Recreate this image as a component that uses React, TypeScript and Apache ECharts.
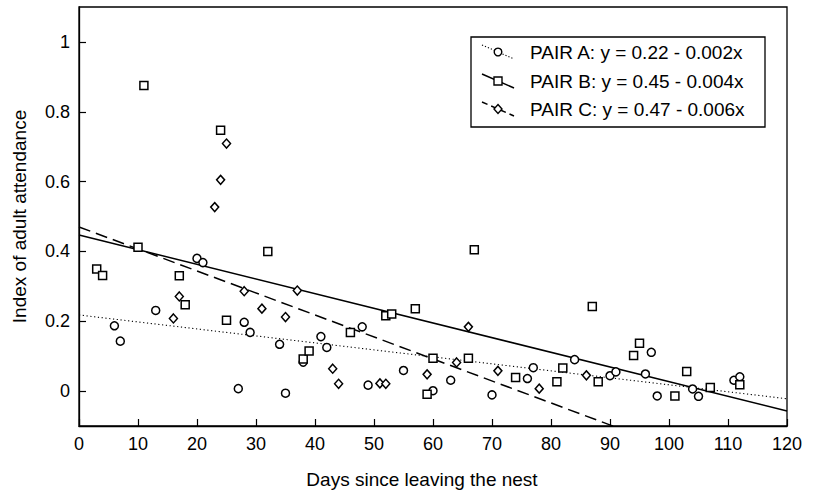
import React, { useEffect, useRef } from "react";
import * as echarts from "echarts";

// ---- data ----
const daysA = [6, 7, 13, 20, 21, 27, 28, 29, 34, 35, 38, 41, 42, 48, 49, 55, 60, 63, 70, 76, 77, 84, 90, 91, 96, 97, 98, 104, 105, 111, 112];
const attendA = [0.187, 0.143, 0.231, 0.38, 0.368, 0.007, 0.197, 0.168, 0.134, -0.006, 0.083, 0.156, 0.125, 0.184, 0.017, 0.059, 0.001, 0.031, -0.011, 0.036, 0.067, 0.09, 0.044, 0.055, 0.049, 0.111, -0.014, 0.006, -0.015, 0.031, 0.041];

const daysB = [3, 4, 10, 11, 17, 18, 24, 25, 32, 38, 39, 46, 52, 53, 57, 59, 60, 66, 67, 74, 81, 82, 87, 88, 94, 95, 101, 103, 107, 112];
const attendB = [0.35, 0.331, 0.412, 0.875, 0.33, 0.247, 0.747, 0.203, 0.4, 0.092, 0.115, 0.168, 0.216, 0.221, 0.236, -0.009, 0.094, 0.094, 0.405, 0.039, 0.027, 0.066, 0.242, 0.027, 0.102, 0.137, -0.014, 0.056, 0.01, 0.018];

const daysC = [16, 17, 23, 24, 25, 28, 31, 35, 37, 43, 44, 51, 52, 59, 64, 66, 71, 78, 86];
const attendC = [0.208, 0.271, 0.527, 0.605, 0.709, 0.286, 0.236, 0.212, 0.288, 0.064, 0.021, 0.022, 0.021, 0.048, 0.082, 0.184, 0.058, 0.007, 0.045];

const pairNames = ["PAIR A", "PAIR B", "PAIR C"];
const legendLabels = [
  "PAIR A: y = 0.22 - 0.002x",
  "PAIR B: y = 0.45 - 0.004x",
  "PAIR C: y = 0.47 - 0.006x",
];
// fitted lines as drawn in the picture
const lineIntercepts = [0.218, 0.447, 0.47];
const lineSlopes = [-0.002, -0.0042, -0.0063];
const lineX = [0, 120];

const xTicks = [0, 10, 20, 30, 40, 50, 60, 70, 80, 90, 100, 110, 120];
const yTicks = [0, 0.2, 0.4, 0.6, 0.8, 1];

const FONT = "'Liberation Sans', Arial, sans-serif";

export default function App() {
  const ref = useRef<HTMLDivElement>(null);

  useEffect(() => {
    if (!ref.current) return;
    const chart = echarts.init(ref.current, undefined, { renderer: "svg" });

    const zip = (xs: number[], ys: number[]) => xs.map((x, i) => [x, ys[i]]);
    const symbols = ["circle", "rect", "diamond"];
    const dashes: any[] = [[1.2, 2.6], "solid", [12, 6]];
    const widths = [1.1, 1.5, 1.5];
    const points = [zip(daysA, attendA), zip(daysB, attendB), zip(daysC, attendC)];
    const sizes: any[] = [8, 8, [8, 9]];

    const series: any[] = [];
    for (let i = 0; i < 3; i++) {
      series.push({
        type: "line",
        name: pairNames[i] + " fit",
        data: lineX.map((x) => [x, lineIntercepts[i] + lineSlopes[i] * x]),
        showSymbol: false,
        symbol: "none",
        clip: true,
        lineStyle: { color: "#000", width: widths[i], type: dashes[i] },
        z: 2,
        silent: true,
      });
    }
    for (let i = 0; i < 3; i++) {
      series.push({
        type: "scatter",
        name: pairNames[i],
        data: points[i],
        symbol: symbols[i],
        symbolSize: sizes[i],
        itemStyle: { color: "#fff", borderColor: "#000", borderWidth: 1.5, opacity: 1 },
        z: 5,
      });
    }

    // legend drawn as graphics
    const lx = 498;
    const rowY = [52, 81, 109];
    const legendGraphics: any[] = [
      {
        type: "rect",
        shape: { x: 471, y: 37, width: 294, height: 90 },
        style: { fill: "#fff", stroke: "#000", lineWidth: 1.3 },
        z: 10,
      },
    ];
    rowY.forEach((cy, i) => {
      legendGraphics.push({
        type: "line",
        shape: { x1: lx - 16, y1: cy - 7, x2: lx + 16, y2: cy + 7 },
        style: { stroke: "#000", lineWidth: widths[i], lineDash: i === 0 ? [1.2, 2] : i === 2 ? [6, 4] : null },
        z: 11,
      });
      if (i === 0) {
        legendGraphics.push({
          type: "circle",
          shape: { cx: lx, cy, r: 3.8 },
          style: { fill: "#fff", stroke: "#000", lineWidth: 1.4 },
          z: 12,
        });
      } else if (i === 1) {
        legendGraphics.push({
          type: "rect",
          shape: { x: lx - 4, y: cy - 4, width: 8, height: 8 },
          style: { fill: "#fff", stroke: "#000", lineWidth: 1.4 },
          z: 12,
        });
      } else {
        legendGraphics.push({
          type: "polygon",
          shape: { points: [[lx, cy - 4.5], [lx + 4, cy], [lx, cy + 4.5], [lx - 4, cy]] },
          style: { fill: "#fff", stroke: "#000", lineWidth: 1.4 },
          z: 12,
        });
      }
      legendGraphics.push({
        type: "text",
        x: 530,
        y: cy,
        style: {
          text: legendLabels[i],
          fill: "#000",
          font: `19px ${FONT}`,
          verticalAlign: "middle",
          align: "left",
        },
        z: 12,
      });
    });

    chart.setOption({
      animation: false,
      backgroundColor: "#fff",
      textStyle: { fontFamily: FONT },
      grid: {
        left: 79,
        right: 26,
        top: 7,
        bottom: 66,
        show: true,
        borderColor: "#000",
        borderWidth: 1.3,
        backgroundColor: "transparent",
      },
      xAxis: {
        type: "value",
        min: 0,
        max: 120,
        interval: 10,
        name: "Days since leaving the nest",
        nameLocation: "middle",
        nameGap: 44,
        nameTextStyle: { fontSize: 19, color: "#000", fontFamily: FONT, padding: [0, 22, 0, 0] },
        axisLine: { show: true, onZero: false, lineStyle: { color: "#000", width: 1.3 } },
        axisTick: { show: true, inside: true, length: 7, lineStyle: { color: "#000", width: 1.2 }, customValues: xTicks },
        axisLabel: { color: "#000", fontSize: 18, margin: 9, fontFamily: FONT, customValues: xTicks },
        splitLine: { show: false },
      },
      yAxis: {
        type: "value",
        min: -0.1,
        max: 1.1,
        name: "Index of adult attendance",
        nameLocation: "middle",
        nameGap: 50,
        nameTextStyle: { fontSize: 19, color: "#000", fontFamily: FONT },
        axisLine: { show: true, onZero: false, lineStyle: { color: "#000", width: 1.3 } },
        axisTick: { show: true, inside: true, length: 7, lineStyle: { color: "#000", width: 1.2 }, customValues: yTicks },
        axisLabel: { color: "#000", fontSize: 18, margin: 9, fontFamily: FONT, customValues: yTicks },
        splitLine: { show: false },
      },
      series,
      graphic: legendGraphics,
    });

    return () => chart.dispose();
  }, []);

  return (
    <div
      ref={ref}
      style={{ position: "fixed", left: 0, top: 0, width: 813, height: 494, background: "#fff" }}
    />
  );
}
